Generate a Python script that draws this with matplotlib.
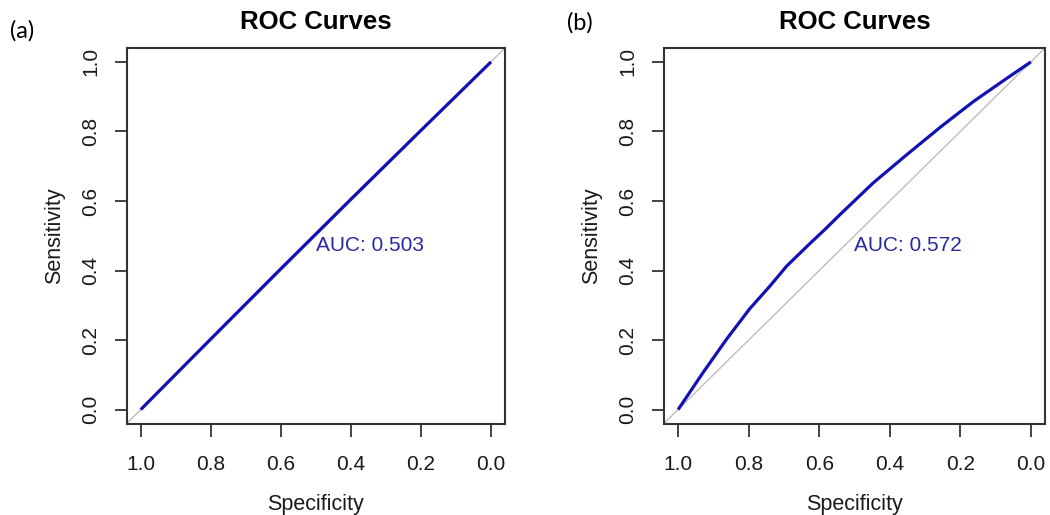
import matplotlib
matplotlib.use("Agg")
import matplotlib.pyplot as plt

# ---- data ----
spec_a = [1.0, 0.8, 0.6, 0.4, 0.2, 0.0]
sens_a = [0.0, 0.203, 0.405, 0.605, 0.803, 1.0]
auc_a = "AUC: 0.503"

spec_b = [1.0, 0.929, 0.863, 0.797, 0.740, 0.692, 0.626, 0.584, 0.541,
          0.447, 0.352, 0.257, 0.163, 0.068, 0.0]
sens_b = [0.0, 0.107, 0.202, 0.290, 0.355, 0.413, 0.478, 0.518, 0.561,
          0.652, 0.733, 0.812, 0.886, 0.953, 1.0]
auc_b = "AUC: 0.572"

ticks = [1.0, 0.8, 0.6, 0.4, 0.2, 0.0]
tick_labels = ["1.0", "0.8", "0.6", "0.4", "0.2", "0.0"]
panel_labels = ["(a)", "(b)"]
title = "ROC Curves"

W, H = 1050, 515
fig = plt.figure(figsize=(W / 100, H / 100), dpi=100)
fig.patch.set_facecolor("white")

AX_FONT = "Liberation Sans"
LINE_COL = "#1212b4"
TEXT_COL = "#2a2a9c"
FRAME_COL = "#333333"


def px_axes(left, right, top, bottom):
    return fig.add_axes([left / W, (H - bottom) / H, (right - left) / W, (bottom - top) / H])


def draw(ax, spec, sens, auc):
    ax.set_xlim(1.04, -0.04)
    ax.set_ylim(-0.04, 1.04)
    ax.axline((1, 0), (0, 1), color="#bdbdbd", lw=1.0, zorder=1)
    ax.plot(spec, sens, color=LINE_COL, lw=2.3, solid_capstyle="butt",
            solid_joinstyle="round", zorder=2)
    ax.text(0.5, 0.5, auc, color=TEXT_COL, fontsize=15, family=AX_FONT,
            ha="left", va="top", zorder=3)
    ax.set_xticks(ticks)
    ax.set_xticklabels(tick_labels)
    ax.set_yticks(ticks[::-1])
    ax.set_yticklabels(tick_labels[::-1], rotation=90, va="center")
    ax.tick_params(axis="both", length=9, width=1.3, color=FRAME_COL,
                   labelsize=15, labelcolor="#1a1a1a")
    ax.tick_params(axis="x", pad=14)
    ax.tick_params(axis="y", pad=10)
    for lab in ax.get_xticklabels() + ax.get_yticklabels():
        lab.set_family(AX_FONT)
    for s in ax.spines.values():
        s.set_color(FRAME_COL)
        s.set_linewidth(1.5)
    ax.set_xlabel("Specificity", fontsize=15.5, family=AX_FONT, labelpad=14, color="#1a1a1a")
    ax.set_ylabel("Sensitivity", fontsize=15.5, family=AX_FONT, labelpad=12, color="#1a1a1a")
    ax.set_title(title, fontsize=18.5, fontweight="bold", family=AX_FONT, pad=14)


ax1 = px_axes(126.7, 505, 48, 423.5)
draw(ax1, spec_a, sens_a, auc_a)
ax2 = px_axes(664, 1045, 48, 423.5)
draw(ax2, spec_b, sens_b, auc_b)

fig.text(10 / W, 1 - 30.5 / H, panel_labels[0], fontsize=17, family="Lato",
         ha="left", va="center")
fig.text(567 / W, 1 - 22.5 / H, panel_labels[1], fontsize=17, family="Lato",
         ha="left", va="center")

fig.savefig("out.png", dpi=100, facecolor="white")
